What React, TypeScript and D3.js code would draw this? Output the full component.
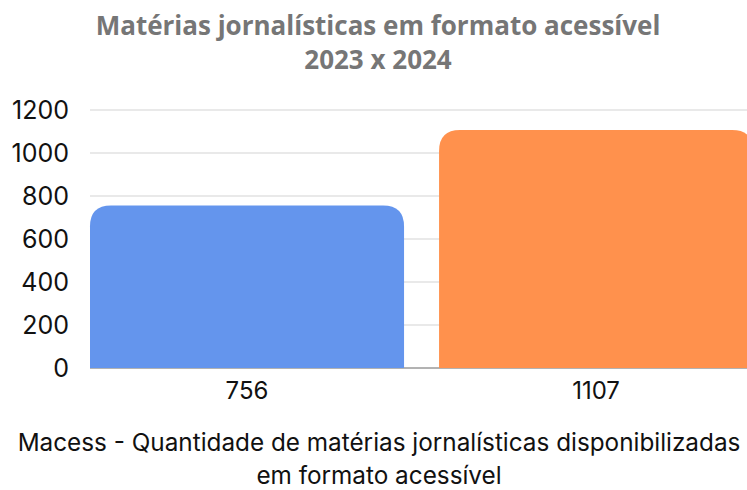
import { useEffect, useRef } from "react";
import * as d3 from "d3";

const categories = ["756", "1107"];
const values = [756, 1107];
const yTicks = [0, 200, 400, 600, 800, 1000, 1200];
const barColors = ["#6495ED", "#FF914D"];
const titleLines = ["Matérias jornalísticas em formato acessível", "2023 x 2024"];
const captionLines = [
  "Macess - Quantidade de matérias jornalísticas disponibilizadas",
  "em formato acessível",
];

const W = 747;
const H = 490;

export default function App() {
  const svgRef = useRef<SVGSVGElement>(null);

  useEffect(() => {
    if (!svgRef.current) return;
    const svg = d3.select(svgRef.current);
    svg.selectAll("*").remove();

    const plotLeft = 90;
    const top = 110;
    const bottom = 368;

    const y = d3.scaleLinear().domain([0, 1200]).range([bottom, top]);
    const x = d3
      .scaleBand<string>()
      .domain(categories)
      .range([72.55, 770.55])
      .paddingInner(0.1003)
      .paddingOuter(0.05);

    // Grid lines
    svg
      .append("g")
      .selectAll("line")
      .data(yTicks.filter((d) => d > 0))
      .join("line")
      .attr("x1", plotLeft)
      .attr("x2", W)
      .attr("y1", (d) => y(d))
      .attr("y2", (d) => y(d))
      .attr("stroke", "#d3d3d3")
      .attr("stroke-width", 1);

    // Baseline
    svg
      .append("line")
      .attr("x1", plotLeft)
      .attr("x2", W)
      .attr("y1", y(0))
      .attr("y2", y(0))
      .attr("stroke", "#666")
      .attr("stroke-width", 1);

    // Bars with rounded top corners
    const r = 21;
    svg
      .append("g")
      .selectAll("path")
      .data(values)
      .join("path")
      .attr("fill", (_, i) => barColors[i])
      .attr("d", (d, i) => {
        const x0 = x(categories[i])!;
        const x1 = x0 + x.bandwidth();
        const y0 = y(0);
        const y1 = y(d);
        return `M${x0},${y0}V${y1 + r}Q${x0},${y1} ${x0 + r},${y1}H${x1 - r}Q${x1},${y1} ${x1},${y1 + r}V${y0}Z`;
      });

    // Y tick labels
    svg
      .append("g")
      .selectAll("text")
      .data(yTicks)
      .join("text")
      .attr("x", 69)
      .attr("y", (d) => y(d))
      .attr("dy", "0.36em")
      .attr("text-anchor", "end")
      .attr("font-family", "Inter, sans-serif")
      .attr("font-size", 25)
      .attr("fill", "#111")
      .text((d) => d);

    // X labels
    svg
      .append("g")
      .selectAll("text")
      .data(categories)
      .join("text")
      .attr("x", (d) => x(d)! + x.bandwidth() / 2)
      .attr("y", 399)
      .attr("text-anchor", "middle")
      .attr("font-family", "Inter, sans-serif")
      .attr("font-size", 24)
      .attr("fill", "#111")
      .text((d) => d);

    // Title
    svg
      .append("g")
      .selectAll("text")
      .data(titleLines)
      .join("text")
      .attr("x", 378)
      .attr("y", (_, i) => 35 + i * 34)
      .attr("text-anchor", "middle")
      .attr("font-family", "'Open Sans', sans-serif")
      .attr("font-weight", "bold")
      .attr("font-size", 26)
      .attr("fill", "#767676")
      .text((d) => d);

    // Caption
    svg
      .append("g")
      .selectAll("text")
      .data(captionLines)
      .join("text")
      .attr("x", 379)
      .attr("y", (_, i) => 451 + i * 33)
      .attr("text-anchor", "middle")
      .attr("font-family", "Inter, sans-serif")
      .attr("font-size", 24.3)
      .attr("fill", "#111")
      .text((d) => d);
  }, []);

  return (
    <svg
      ref={svgRef}
      width={W}
      height={H}
      style={{ position: "absolute", left: 0, top: 0, background: "#fff" }}
    />
  );
}
